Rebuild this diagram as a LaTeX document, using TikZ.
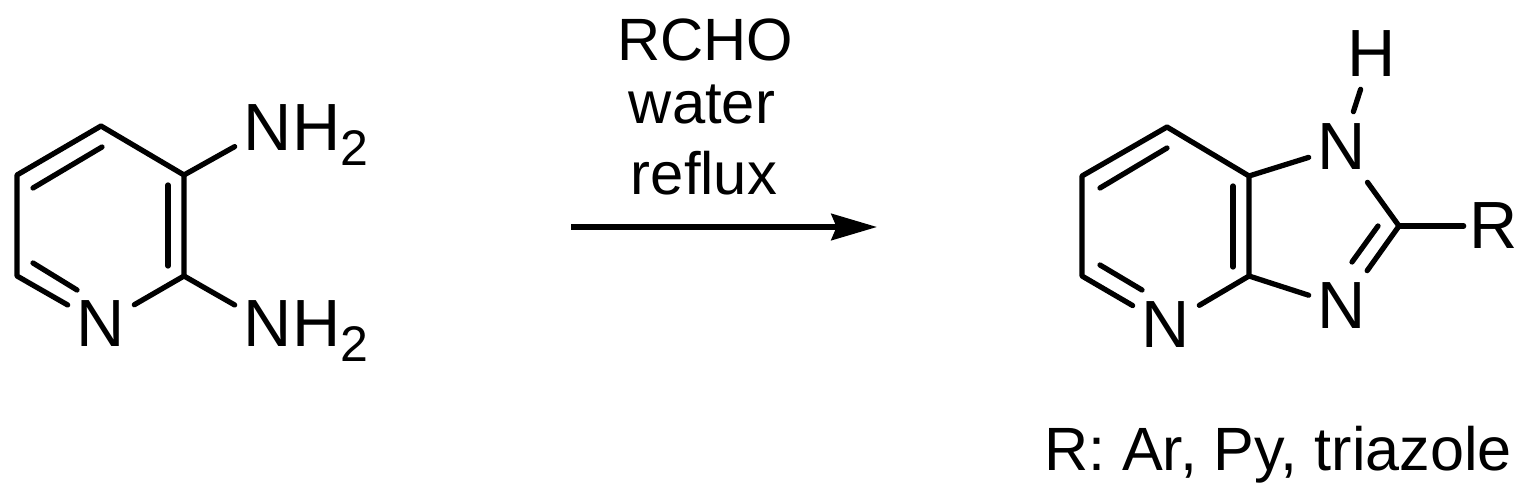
\documentclass[tikz,border=0pt]{standalone}
\usepackage{fontspec}
\setmainfont{Liberation Sans}
\usetikzlibrary{arrows.meta}
\newcommand{\subtwo}{\smash{\rlap{H\raisebox{-8.5pt}{\fontsize{28.5}{30}\selectfont 2}}}}
\tikzset{
  atom/.style={rectangle,inner sep=0pt,minimum width=1.32cm,minimum height=1.4cm,font=\fontsize{38}{44}\selectfont},
  txt/.style={inner sep=0pt,anchor=base,font=\fontsize{34}{40}\selectfont},
  bond/.style={line width=3pt,line cap=round,line join=round}
}
\begin{document}
\begin{tikzpicture}[x=0.02cm,y=-0.02cm, >={Stealth[length=26pt,width=15pt,inset=3pt]}]
\useasboundingbox (0,0) rectangle (1528,489);
\begin{scope}
  \coordinate (a4) at (101,126);
  \coordinate (a5) at (17,175);
  \coordinate (a6) at (17,276);
  \coordinate (a2) at (184,276);
  \coordinate (a3) at (184,175);
  \node[atom] (an) at (101,324) {N};
  \node[atom] (anha) at (268,128) {N\subtwo};
  \node[atom] (anhb) at (268,324) {N\subtwo};
  \draw[bond] (an) -- (a6) -- (a5) -- (a4) -- (a3) -- (a2) -- (an);
  \draw[bond] (a3) -- (anha);
  \draw[bond] (a2) -- (anhb);
  \coordinate (ai1) at (33,188);
  \coordinate (ai2) at (102,147);
  \coordinate (ai3) at (33,263);
  \coordinate (ai4) at (77,290);
  \coordinate (ai5) at (168,185);
  \coordinate (ai6) at (168,266);
  \draw[bond] (ai1) -- (ai2);
  \draw[bond] (ai3) -- (ai4);
  \draw[bond] (ai5) -- (ai6);
\end{scope}
\node[txt] (rcho) at (705,61) {RCHO};
\node[txt] (water) at (702,124) {water};
\node[txt] (reflux) at (704,195) {reflux};
\coordinate (arrl) at (571,227);
\coordinate (arrr) at (877,227);
\draw[bond,line cap=butt,->] (arrl) -- (arrr);
\begin{scope}
  \coordinate (b4) at (1167,127);
  \coordinate (b5) at (1082,176);
  \coordinate (b6) at (1082,276);
  \coordinate (b7a) at (1249,176);
  \coordinate (b3a) at (1249,276);
  \coordinate (b2) at (1399,226);
  \node[atom] (bn) at (1166,325) {N};
  \node[atom] (bna) at (1342,147) {N};
  \node[atom] (bnb) at (1342,306) {N};
  \node[atom] (bh) at (1372,54) {H};
  \node[atom,minimum width=1.2cm] (br) at (1494,226) {R};
  \draw[bond] (bn) -- (b6) -- (b5) -- (b4) -- (b7a) -- (b3a) -- (bn);
  \draw[bond] (b7a) -- (bna) -- (b2) -- (bnb) -- (b3a);
  \draw[bond] (bna) -- (bh);
  \draw[bond] (b2) -- (br);
  \coordinate (bi1) at (1100,188);
  \coordinate (bi2) at (1167,148);
  \coordinate (bi3) at (1100,265);
  \coordinate (bi4) at (1142,290);
  \coordinate (bi5) at (1233,186);
  \coordinate (bi6) at (1233,267);
  \coordinate (bi7) at (1378,226);
  \coordinate (bi8) at (1352,262);
  \draw[bond] (bi1) -- (bi2);
  \draw[bond] (bi3) -- (bi4);
  \draw[bond] (bi5) -- (bi6);
  \draw[bond] (bi7) -- (bi8);
\end{scope}
\node[txt,font=\fontsize{34.8}{40}\selectfont] (rlab) at (1278,470) {R: Ar, Py, triazole};
\end{tikzpicture}
\end{document}
